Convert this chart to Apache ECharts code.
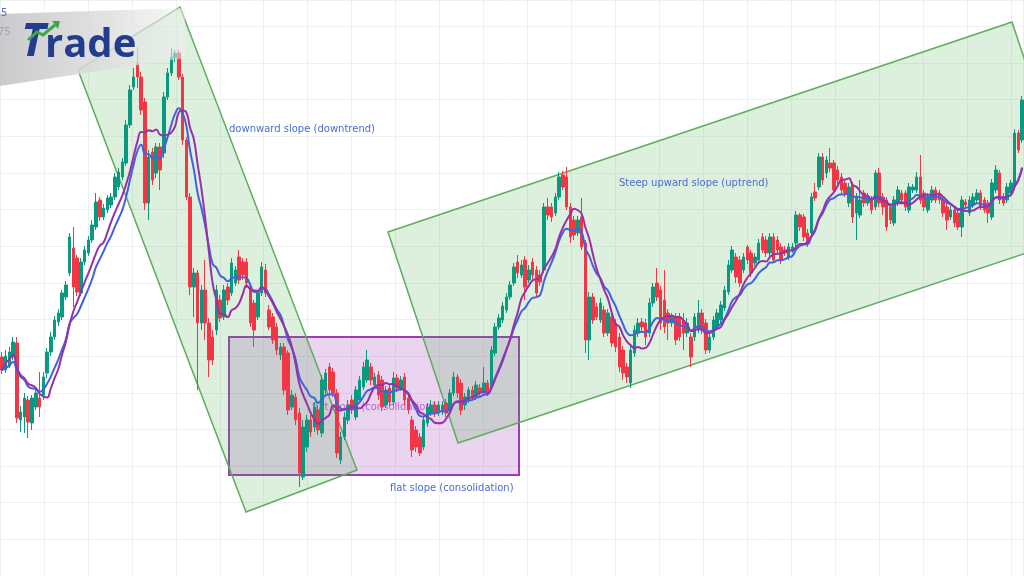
<!DOCTYPE html>
<html><head><meta charset="utf-8">
<script src="https://cdn.jsdelivr.net/npm/echarts@6/dist/echarts.min.js"></script>
<style>html,body{margin:0;padding:0;background:#fff;}#c{width:1024px;height:576px;}</style>
</head><body><div id="c"></div>
<script>
const opens = [243,230,234,243,257,180,183,200,177,193,202,205,227,248,263,278,283,303,327,352,342,307,338,347,360,373,400,383,390,395,403,413,423,437,475,513,537,523,498,397,448,427,453,447,503,527,542,547,523,460,403,313,327,277,310,
277,263,270,300,283,313,307,317,343,338,338,313,297,283,307,330,290,283,273,245,253,247,193,203,187,123,153,180,173,190,167,210,233,228,207,140,163,180,200,183,200,213,220,233,215,225,220,195,212,198,222,212,223,202,
180,170,163,153,177,187,195,187,188,197,190,207,223,217,195,200,210,203,212,208,217,213,247,273,280,290,303,317,338,325,340,320,338,330,325,330,393,393,387,403,425,423,393,380,367,383,357,260,303,293,280,290,267,283,
277,263,250,233,217,247,267,278,277,267,297,317,310,300,287,277,283,283,280,267,263,263,270,287,277,250,263,273,280,292,308,330,343,340,330,353,347,337,340,363,360,347,363,360,353,350,343,350,357,385,383,367,367,408,413,
443,427,437,437,430,423,417,397,415,387,385,407,397,400,393,427,403,400,393,377,397,407,407,390,410,410,423,407,390,400,410,407,400,393,383,390,387,373,398,387,395,400,407,400,397,383,410,427,403,400,407,413,467,460];
const closes = [230,244,248,258,182,188,202,178,202,207,193,223,248,263,280,287,307,315,363,313,308,338,350,360,375,398,383,392,402,403,423,428,438,475,510,523,523,490,397,443,420,453,430,503,527,543,547,523,460,403,313,327,277,310,277,
240,240,310,282,310,300,337,330,320,325,317,277,270,307,333,307,273,260,250,253,210,190,205,180,127,173,180,168,193,170,220,227,210,207,147,163,183,195,190,210,220,233,240,220,223,205,193,210,198,222,212,220,200,190,
150,153,147,180,193,195,187,195,195,187,207,223,207,190,203,210,203,215,207,217,208,250,273,282,294,303,315,333,327,335,313,330,325,307,318,393,385,383,403,423,413,393,363,365,380,353,260,303,280,283,297,267,287,257,
253,233,227,223,250,270,277,273,263,297,313,303,277,273,277,283,260,263,267,277,243,283,287,270,250,263,280,287,295,310,335,350,323,317,343,340,327,343,357,350,347,363,340,350,340,347,353,353,385,373,363,357,403,402,443,
420,440,432,410,420,410,407,413,383,403,400,397,403,390,427,397,393,373,380,400,410,400,393,413,413,423,400,393,403,410,400,400,387,380,390,377,373,400,395,400,403,407,393,390,387,417,430,400,397,413,417,467,450,500];
const lows = [226,227,232,240,177,168,167,162,170,190,183,200,222,244,260,274,280,300,324,293,304,304,335,344,357,370,379,380,387,392,400,410,420,434,472,510,512,485,390,380,415,422,410,442,500,524,538,520,455,400,305,283,210,270,260,
223,235,265,278,280,295,304,314,316,320,312,273,253,280,304,303,270,256,245,240,205,185,190,175,113,120,148,163,168,165,163,206,205,203,142,136,160,176,186,180,197,210,217,215,212,200,189,192,194,195,208,209,195,186,
143,148,144,150,173,184,183,184,185,183,187,204,202,185,190,197,200,200,204,205,204,210,244,270,277,287,300,314,322,322,300,317,320,302,314,327,380,378,384,400,410,390,357,360,364,350,247,240,276,280,277,263,264,253,
248,228,220,217,212,243,263,269,255,263,293,299,270,267,260,273,255,259,250,263,233,259,267,266,246,247,260,270,277,289,305,327,317,313,327,336,323,334,337,347,343,344,337,346,336,344,340,347,354,369,359,353,364,399,410,
415,422,428,406,416,406,403,393,377,360,382,393,394,386,390,393,385,369,376,374,394,397,389,387,407,407,396,389,387,397,397,396,383,370,380,373,370,363,392,384,392,397,390,387,377,380,407,396,394,397,404,410,447,457];
const highs = [248,250,253,263,263,194,207,204,205,213,228,228,252,268,284,291,310,319,367,373,345,342,354,364,380,407,403,396,405,407,427,432,442,480,515,532,553,528,502,450,452,457,457,508,532,552,550,550,526,463,407,332,330,315,340,
282,270,315,305,315,317,342,334,350,342,342,317,300,310,338,336,295,287,277,257,257,250,210,207,192,180,185,185,198,195,225,231,237,232,211,168,188,200,205,214,224,238,250,237,227,229,224,214,216,228,226,224,227,206,
184,174,167,184,197,200,199,199,199,201,211,228,226,221,207,213,214,219,216,233,220,254,277,286,298,307,319,337,345,340,344,335,342,334,330,397,402,397,407,428,429,433,397,384,384,402,360,308,307,297,302,294,291,288,
281,267,254,237,255,275,282,282,281,302,317,332,314,330,291,287,287,287,287,282,267,287,300,291,281,267,284,291,299,314,340,354,347,344,347,355,350,347,361,367,364,367,367,364,357,354,357,357,389,387,386,371,407,417,447,
447,444,452,440,434,427,420,417,418,407,420,410,407,404,430,432,407,403,396,404,414,410,410,417,416,428,445,410,407,414,413,410,403,396,394,393,390,404,401,404,407,411,410,403,400,421,435,430,407,417,420,471,470,504];
const categories = opens.map((_, i) => 'bar ' + (i + 1));
const maFastPeriod = 9;   // purple: simple moving average of closes
const maSlowPeriod = 12;  // blue: exponential moving average of closes
const labels = {
  down: 'downward slope (downtrend)',
  up: 'Steep upward slope (uptrend)',
  flat: 'flat slope (consolidation)'
};

function sma(values, period) {
  return values.map((_, i) => {
    const s = Math.max(0, i - period + 1);
    let sum = 0;
    for (let k = s; k <= i; k++) sum += values[k];
    return +(sum / (i - s + 1)).toFixed(2);
  });
}
function ema(values, period) {
  const a = 2 / (period + 1);
  const out = [];
  let prev = values[0];
  values.forEach((v, i) => { prev = i === 0 ? v : a * v + (1 - a) * prev; out.push(+prev.toFixed(2)); });
  return out;
}
const candles = opens.map((o, i) => [o, closes[i], lows[i], highs[i]]);
const maFast = sma(closes, maFastPeriod);
const maSlow = ema(closes, maSlowPeriod);

const chart = echarts.init(document.getElementById('c'), null, {renderer: 'canvas'});
const LBL = '#4a6cd4';
const labelFont = '10px "DejaVu Sans"';
chart.setOption({
  animation: false,
  backgroundColor: '#ffffff',
  grid: [
    {left: 0, right: 0, top: 0, bottom: 0},
    {left: -1, right: 1, top: 0, bottom: 0}
  ],
  xAxis: [
    {type: 'category', data: categories, gridIndex: 0, boundaryGap: true, show: false},
    {type: 'value', gridIndex: 1, min: 0, max: 1024, interval: 44,
     axisLine: {show: false}, axisTick: {show: false}, axisLabel: {show: false},
     splitLine: {show: true, lineStyle: {color: '#eef0f4', width: 1}}}
  ],
  yAxis: [
    {type: 'value', gridIndex: 0, min: 24, max: 600, show: false, splitLine: {show: false}},
    {type: 'value', gridIndex: 1, min: 0, max: 576, interval: 36.65,
     axisLine: {show: false}, axisTick: {show: false}, axisLabel: {show: false},
     splitLine: {show: true, lineStyle: {color: '#eef0f4', width: 1}}}
  ],
  series: [
    {type: 'candlestick', data: candles, xAxisIndex: 0, yAxisIndex: 0, barWidth: 3, z: 3,
     itemStyle: {color: '#089981', color0: '#f23645', borderColor: '#089981', borderColor0: '#f23645', borderWidth: 1}},
    {type: 'line', data: maSlow, xAxisIndex: 0, yAxisIndex: 0, smooth: true, showSymbol: false, z: 4,
     lineStyle: {color: '#4460dc', width: 2}},
    {type: 'line', data: maFast, xAxisIndex: 0, yAxisIndex: 0, smooth: true, showSymbol: false, z: 4,
     lineStyle: {color: '#9a30a8', width: 2}}
  ],
  graphic: {elements: [
    {type: 'rect', z: 1, shape: {x: 229, y: 337, width: 290, height: 138},
     style: {fill: 'rgba(156,39,176,0.2)', stroke: '#9b3db0', lineWidth: 2}},
    {type: 'polygon', z: 1, shape: {points: [[78,70],[180,7],[357,470],[246,512]]},
     style: {fill: 'rgba(76,175,80,0.19)', stroke: '#5dad5d', lineWidth: 1.5}},
    {type: 'polygon', z: 1, shape: {points: [[388,232],[1012,22],[1083,234],[458,443]]},
     style: {fill: 'rgba(76,175,80,0.19)', stroke: '#5dad5d', lineWidth: 1.5}},
    {type: 'text', z: 2, x: 312, y: 407, style: {text: labels.flat, fill: 'rgba(170,60,190,0.75)', font: labelFont, textVerticalAlign: 'middle'}},
    {type: 'text', z: 10, x: 229, y: 129, style: {text: labels.down, fill: LBL, font: labelFont, textVerticalAlign: 'middle'}},
    {type: 'text', z: 10, x: 619, y: 183, style: {text: labels.up, fill: LBL, font: labelFont, textVerticalAlign: 'middle'}},
    {type: 'text', z: 10, x: 390, y: 488, style: {text: labels.flat, fill: LBL, font: labelFont, textVerticalAlign: 'middle'}},
    {type: 'polygon', z: 20, shape: {points: [[0,14],[185,8],[185,58],[0,86]]},
     style: {fill: new echarts.graphic.LinearGradient(0, 0, 1, 0, [
       {offset: 0, color: 'rgba(200,200,202,0.95)'},
       {offset: 0.6, color: 'rgba(222,222,224,0.85)'},
       {offset: 1, color: 'rgba(240,240,240,0.5)'}])}},
    {type: 'text', z: 21, x: 1, y: 13, style: {text: '5', fill: LBL, font: '10px "DejaVu Sans"', textVerticalAlign: 'middle'}},
    {type: 'text', z: 21, x: -2, y: 32, style: {text: '75', fill: '#b49ab9', font: '10px "DejaVu Sans"', textVerticalAlign: 'middle'}},
    {type: 'text', z: 22, x: 21, y: 66, style: {text: 'T', fill: '#233d8e', font: 'italic bold 46px "Open Sans"', textVerticalAlign: 'bottom'}},
    {type: 'text', z: 22, x: 45, y: 66, style: {text: 'rade', fill: '#233d8e', font: 'bold 40px "Open Sans"', textVerticalAlign: 'bottom'}},
    {type: 'polyline', z: 23, shape: {points: [[28,40],[37,32],[43,35],[55,25]]},
     style: {stroke: '#39a845', lineWidth: 3, fill: null}},
    {type: 'polygon', z: 23, shape: {points: [[52,21],[60,21],[58,29]]}, style: {fill: '#39a845'}}
  ]}
});
</script></body></html>
